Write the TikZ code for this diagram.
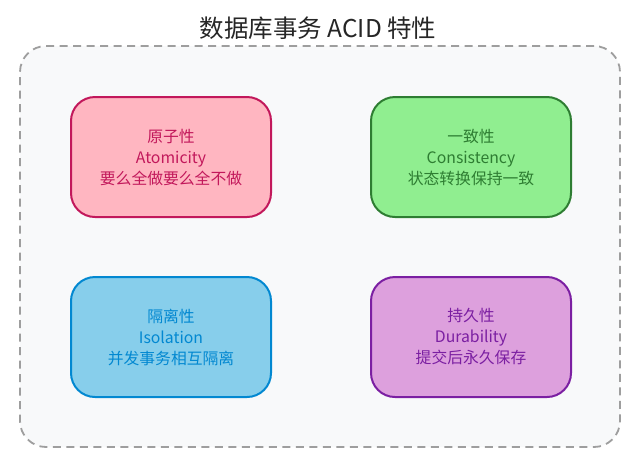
\documentclass[tikz,border=0pt]{standalone}
\usepackage{fontspec}
\setmainfont{Noto Sans CJK SC}
\usetikzlibrary{positioning}

\definecolor{framebg}{HTML}{F8F9FA}
\definecolor{framegray}{HTML}{9E9E9E}
\definecolor{atomfill}{HTML}{FFB6C1}
\definecolor{atomline}{HTML}{C2185B}
\definecolor{consfill}{HTML}{90EE90}
\definecolor{consline}{HTML}{2E7D32}
\definecolor{isofill}{HTML}{87CEEB}
\definecolor{isoline}{HTML}{0288D1}
\definecolor{durfill}{HTML}{DDA0DD}
\definecolor{durline}{HTML}{7B1FA2}

\begin{document}
\begin{tikzpicture}[x=1pt,y=-1pt,
  every node/.style={align=center},
  frame/.style={draw=framegray,line width=1.8pt,dash pattern=on 8pt off 5.5pt,fill=framebg,rounded corners=26pt,minimum width=600pt,minimum height=401pt,inner sep=0pt},
  property/.style={line width=2pt,rounded corners=24pt,minimum width=200pt,minimum height=120pt,inner sep=0pt,font=\fontsize{15.8}{21}\selectfont},
  atom/.style={property,fill=atomfill,draw=atomline,text=atomline},
  cons/.style={property,fill=consfill,draw=consline,text=consline},
  iso/.style={property,fill=isofill,draw=isoline,text=isoline},
  dur/.style={property,fill=durfill,draw=durline,text=durline}]

  \useasboundingbox (0,0) rectangle (637,459);

  % Title and the dashed frame round the four properties
  \node[font=\fontsize{24.5}{28}\selectfont,text=black!85] (title) at (318,28) {数据库事务 ACID 特性};
  \node[frame] (frame) at (320,246.5) {};

  % One box per property, in a 2x2 grid
  \node[atom] (atomicity) at (171,157) {原子性\\Atomicity\\要么全做要么全不做};
  \node[cons] (consistency) at (471,157) {一致性\\Consistency\\状态转换保持一致};
  \node[iso] (isolation) at (171,337) {隔离性\\Isolation\\并发事务相互隔离};
  \node[dur] (durability) at (471,337) {持久性\\Durability\\提交后永久保存};
\end{tikzpicture}
\end{document}
